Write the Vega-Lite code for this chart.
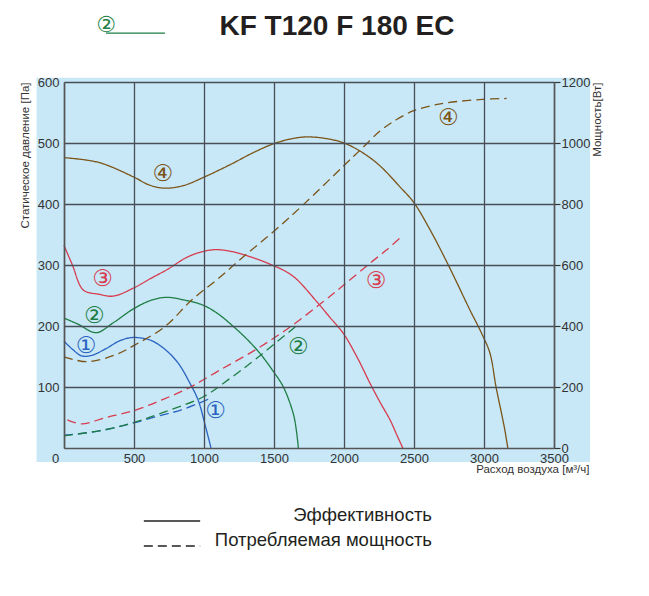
{
  "$schema": "https://vega.github.io/schema/vega-lite/v6.json",
  "width": 490,
  "height": 366,
  "autosize": {"type": "none"},
  "padding": {"left": 64, "top": 82, "right": 95, "bottom": 148},
  "background": "white",
  "config": {"font": "Liberation Sans", "view": {"stroke": null}},
  "title": {
    "text": "KF T120 F 180 EC",
    "font": "Liberation Sans",
    "fontSize": 28,
    "fontWeight": "bold",
    "color": "#231f20",
    "anchor": "middle",
    "frame": "group",
    "dx": 28,
    "offset": -27
  },
  "datasets": {
    "pressure": [
      {"q": 0, "v": 175, "series": "1"}, {"q": 60, "v": 162, "series": "1"}, {"q": 126, "v": 151, "series": "1"},
      {"q": 200, "v": 152, "series": "1"}, {"q": 293, "v": 162, "series": "1"}, {"q": 400, "v": 176, "series": "1"},
      {"q": 483, "v": 181, "series": "1"}, {"q": 560, "v": 180, "series": "1"}, {"q": 626, "v": 176, "series": "1"},
      {"q": 720, "v": 162, "series": "1"}, {"q": 816, "v": 139, "series": "1"}, {"q": 900, "v": 106, "series": "1"},
      {"q": 959, "v": 78, "series": "1"}, {"q": 1010, "v": 36, "series": "1"}, {"q": 1050, "v": 0, "series": "1"},
      {"q": 0, "v": 213, "series": "2"}, {"q": 100, "v": 203, "series": "2"}, {"q": 230, "v": 189, "series": "2"},
      {"q": 350, "v": 205, "series": "2"}, {"q": 495, "v": 228, "series": "2"}, {"q": 620, "v": 242, "series": "2"},
      {"q": 733, "v": 247, "series": "2"}, {"q": 850, "v": 243, "series": "2"}, {"q": 995, "v": 234, "series": "2"},
      {"q": 1100, "v": 220, "series": "2"}, {"q": 1186, "v": 204, "series": "2"}, {"q": 1300, "v": 180, "series": "2"},
      {"q": 1400, "v": 155, "series": "2"}, {"q": 1500, "v": 124, "series": "2"}, {"q": 1567, "v": 100, "series": "2"},
      {"q": 1638, "v": 56, "series": "2"}, {"q": 1662, "v": 25, "series": "2"}, {"q": 1674, "v": 0, "series": "2"},
      {"q": 0, "v": 332, "series": "3"}, {"q": 60, "v": 300, "series": "3"}, {"q": 138, "v": 259, "series": "3"},
      {"q": 250, "v": 252, "series": "3"}, {"q": 352, "v": 249, "series": "3"}, {"q": 495, "v": 262, "series": "3"},
      {"q": 620, "v": 278, "series": "3"}, {"q": 733, "v": 292, "series": "3"}, {"q": 900, "v": 315, "series": "3"},
      {"q": 1066, "v": 325, "series": "3"}, {"q": 1200, "v": 322, "series": "3"}, {"q": 1281, "v": 317, "series": "3"},
      {"q": 1400, "v": 308, "series": "3"}, {"q": 1495, "v": 299, "series": "3"}, {"q": 1580, "v": 290, "series": "3"},
      {"q": 1660, "v": 277, "series": "3"}, {"q": 1805, "v": 240, "series": "3"}, {"q": 1900, "v": 214, "series": "3"},
      {"q": 1995, "v": 188, "series": "3"}, {"q": 2100, "v": 146, "series": "3"}, {"q": 2186, "v": 106, "series": "3"},
      {"q": 2260, "v": 74, "series": "3"}, {"q": 2329, "v": 46, "series": "3"}, {"q": 2380, "v": 20, "series": "3"},
      {"q": 2420, "v": 0, "series": "3"},
      {"q": 0, "v": 476, "series": "4"}, {"q": 250, "v": 468, "series": "4"}, {"q": 500, "v": 444, "series": "4"},
      {"q": 600, "v": 432, "series": "4"}, {"q": 710, "v": 426, "series": "4"}, {"q": 850, "v": 430, "series": "4"},
      {"q": 1000, "v": 444, "series": "4"}, {"q": 1200, "v": 466, "series": "4"}, {"q": 1350, "v": 484, "series": "4"},
      {"q": 1500, "v": 499, "series": "4"}, {"q": 1650, "v": 508, "series": "4"}, {"q": 1750, "v": 510, "series": "4"},
      {"q": 1880, "v": 507, "series": "4"}, {"q": 2000, "v": 500, "series": "4"}, {"q": 2120, "v": 486, "series": "4"},
      {"q": 2250, "v": 464, "series": "4"}, {"q": 2400, "v": 428, "series": "4"}, {"q": 2500, "v": 402, "series": "4"},
      {"q": 2614, "v": 358, "series": "4"}, {"q": 2745, "v": 300, "series": "4"}, {"q": 2900, "v": 226, "series": "4"},
      {"q": 2983, "v": 188, "series": "4"}, {"q": 3043, "v": 155, "series": "4"}, {"q": 3086, "v": 100, "series": "4"},
      {"q": 3125, "v": 57, "series": "4"}, {"q": 3150, "v": 28, "series": "4"}, {"q": 3170, "v": 0, "series": "4"}
    ],
    "power": [
      {"q": 0, "w": 42, "series": "1"}, {"q": 257, "w": 56, "series": "1"}, {"q": 495, "w": 82, "series": "1"},
      {"q": 700, "w": 108, "series": "1"}, {"q": 840, "w": 125, "series": "1"}, {"q": 1031, "w": 160, "series": "1"},
      {"q": 0, "w": 40, "series": "2"}, {"q": 257, "w": 57, "series": "2"}, {"q": 495, "w": 83, "series": "2"},
      {"q": 700, "w": 115, "series": "2"}, {"q": 995, "w": 168, "series": "2"}, {"q": 1186, "w": 228, "series": "2"},
      {"q": 1370, "w": 292, "series": "2"}, {"q": 1662, "w": 401, "series": "2"},
      {"q": 24, "w": 92, "series": "3"}, {"q": 126, "w": 79, "series": "3"}, {"q": 300, "w": 100, "series": "3"},
      {"q": 495, "w": 122, "series": "3"}, {"q": 700, "w": 158, "series": "3"}, {"q": 888, "w": 196, "series": "3"},
      {"q": 1100, "w": 252, "series": "3"}, {"q": 1364, "w": 321, "series": "3"}, {"q": 1600, "w": 392, "series": "3"},
      {"q": 1852, "w": 480, "series": "3"}, {"q": 2000, "w": 535, "series": "3"}, {"q": 2186, "w": 606, "series": "3"},
      {"q": 2300, "w": 648, "series": "3"}, {"q": 2416, "w": 695, "series": "3"},
      {"q": 0, "w": 299, "series": "4"}, {"q": 162, "w": 283, "series": "4"}, {"q": 364, "w": 305, "series": "4"},
      {"q": 507, "w": 338, "series": "4"}, {"q": 721, "w": 398, "series": "4"}, {"q": 912, "w": 485, "series": "4"},
      {"q": 1100, "w": 555, "series": "4"}, {"q": 1281, "w": 627, "series": "4"}, {"q": 1495, "w": 709, "series": "4"},
      {"q": 1710, "w": 798, "series": "4"}, {"q": 1995, "w": 924, "series": "4"}, {"q": 2114, "w": 976, "series": "4"},
      {"q": 2257, "w": 1039, "series": "4"}, {"q": 2376, "w": 1077, "series": "4"}, {"q": 2493, "w": 1105, "series": "4"},
      {"q": 2620, "w": 1122, "series": "4"}, {"q": 2733, "w": 1132, "series": "4"}, {"q": 2990, "w": 1143, "series": "4"},
      {"q": 3162, "w": 1146, "series": "4"}
    ],
    "labels": [
      {"q": 157, "v": 167, "series": "1", "label": "①"},
      {"q": 216, "v": 216, "series": "2", "label": "②"},
      {"q": 276, "v": 277, "series": "3", "label": "③"},
      {"q": 705, "v": 449, "series": "4", "label": "④"},
      {"q": 1083, "v": 60, "series": "1", "label": "①"},
      {"q": 1674, "v": 166, "series": "2", "label": "②"},
      {"q": 2229, "v": 273, "series": "3", "label": "③"},
      {"q": 2745, "v": 541, "series": "4", "label": "④"}
    ],
    "header": [
      {"q": 300, "q2": 721, "v": 693, "vr": 680, "label": "②"}
    ]
  },
  "layer": [
    {
      "layer": [
        {
          "data": {"name": "header"},
          "mark": {"type": "rect", "color": "#c8e8f7"},
          "encoding": {
            "x": {"datum": -196, "type": "quantitative", "scale": {"domain": [0, 3500], "nice": false}},
            "x2": {"datum": 3757},
            "y": {"datum": 607, "type": "quantitative", "scale": {"domain": [0, 600], "nice": false}},
            "y2": {"datum": -23}
          }
        },
        {
          "data": {"name": "header"},
          "mark": {"type": "text", "font": "DejaVu Sans", "fontSize": 22, "color": "#1e7e44", "baseline": "middle"},
          "encoding": {
            "x": {"field": "q", "type": "quantitative", "scale": {"domain": [0, 3500], "nice": false}},
            "y": {"field": "v", "type": "quantitative", "scale": {"domain": [0, 600], "nice": false}},
            "text": {"field": "label"}
          }
        },
        {
          "data": {"name": "header"},
          "mark": {"type": "rule", "color": "#1e7e44", "strokeWidth": 1.3},
          "encoding": {
            "x": {"field": "q", "type": "quantitative", "scale": {"domain": [0, 3500], "nice": false}},
            "x2": {"field": "q2"},
            "y": {"field": "vr", "type": "quantitative", "scale": {"domain": [0, 600], "nice": false}}
          }
        },
        {
          "data": {"name": "pressure"},
          "mark": {"type": "line", "interpolate": "catmull-rom", "strokeWidth": 1.3},
          "encoding": {
            "x": {
              "field": "q",
              "type": "quantitative",
              "scale": {"domain": [0, 3500], "nice": false},
              "axis": {
                "title": "Расход воздуха [м³/ч]",
                "values": [0, 500, 1000, 1500, 2000, 2500, 3000, 3500],
                "format": "d",
                "grid": true,
                "gridColor": "#474e55",
                "gridWidth": 1.3,
                "gridOpacity": 1,
                "domainColor": "#555555",
                "domainWidth": 1.5,
                "ticks": false,
                "labelPadding": 4,
                "labelFontSize": 13,
                "labelColor": "#333333",
                "labelFlush": false,
                "labelOffset": {"condition": {"test": "datum.value === 0", "value": -9}, "value": 0},
                "titleFontSize": 11.5,
                "titleFontWeight": "normal",
                "titleColor": "#333333",
                "titleAnchor": "end",
                "titleAlign": "right",
                "titleBaseline": "alphabetic",
                "titleX": 525,
                "titleY": 24,
                "zindex": 1
              }
            },
            "y": {
              "field": "v",
              "type": "quantitative",
              "scale": {"domain": [0, 600], "nice": false},
              "axis": {
                "title": "Статическое давление [Па]",
                "values": [100, 200, 300, 400, 500, 600],
                "format": "d",
                "grid": true,
                "gridColor": "#474e55",
                "gridWidth": 1.3,
                "gridOpacity": 1,
                "domainColor": "#555555",
                "domainWidth": 1.5,
                "ticks": false,
                "labelPadding": 5,
                "labelFontSize": 13,
                "labelColor": "#333333",
                "titleFontSize": 11.5,
                "titleFontWeight": "normal",
                "titleColor": "#333333",
                "titleAnchor": "end",
                "titlePadding": 7,
                "zindex": 1
              }
            },
            "color": {
              "field": "series",
              "type": "nominal",
              "scale": {"domain": ["1", "2", "3", "4"], "range": ["#2a63c1", "#1e7e44", "#d73c4e", "#7b5418"]},
              "legend": null
            },
            "strokeDash": {
              "datum": "Эффективность",
              "type": "nominal",
              "scale": {"domain": ["Эффективность", "Потребляемая мощность"], "range": [[1, 0], [9, 5]]},
              "legend": {
                "title": null,
                "orient": "none",
                "legendX": 95,
                "legendY": 426,
                "direction": "vertical",
                "symbolType": "M-2.3,0H2.3",
                "symbolSize": 600,
                "symbolStrokeColor": "#222222",
                "symbolStrokeWidth": 1.3,
                "labelFontSize": 18.5,
                "labelColor": "#231f20",
                "labelLimit": 400,
                "labelAlign": "right",
                "labelBaseline": "alphabetic",
                "labelOffset": 247,
                "rowPadding": 6
              }
            }
          }
        },
        {
          "data": {"name": "labels"},
          "mark": {"type": "text", "font": "DejaVu Sans", "fontSize": 23, "baseline": "middle", "align": "center"},
          "encoding": {
            "x": {"field": "q", "type": "quantitative", "scale": {"domain": [0, 3500], "nice": false}},
            "y": {"field": "v", "type": "quantitative", "scale": {"domain": [0, 600], "nice": false}},
            "text": {"field": "label"},
            "color": {"field": "series", "type": "nominal", "legend": null}
          }
        }
      ]
    },
    {
      "data": {"name": "power"},
      "mark": {"type": "line", "interpolate": "catmull-rom", "strokeWidth": 1.3},
      "encoding": {
        "x": {"field": "q", "type": "quantitative", "scale": {"domain": [0, 3500], "nice": false}},
        "y": {
          "field": "w",
          "type": "quantitative",
          "scale": {"domain": [0, 1200], "nice": false},
          "axis": {
            "orient": "right",
            "title": "Мощность[Вт]",
            "values": [0, 200, 400, 600, 800, 1000, 1200],
            "format": "d",
            "grid": false,
            "ticks": true,
            "tickSize": 6,
            "tickColor": "#333333",
            "tickWidth": 1.2,
            "domainColor": "#555555",
            "domainWidth": 1.5,
            "labelPadding": 1,
            "labelFontSize": 13,
            "labelColor": "#333333",
            "titleFontSize": 11.5,
            "titleFontWeight": "normal",
            "titleColor": "#333333",
            "titleAngle": 270,
            "titleAnchor": "end",
            "titleBaseline": "top",
            "titleX": 37,
            "zindex": 1
          }
        },
        "color": {"field": "series", "type": "nominal", "legend": null},
        "strokeDash": {
          "datum": "Потребляемая мощность",
          "type": "nominal",
          "legend": {
            "title": null,
            "orient": "none",
            "legendX": 95,
            "legendY": 426,
            "direction": "vertical",
            "symbolType": "M-2.3,0H2.3",
            "symbolSize": 600,
            "symbolStrokeColor": "#222222",
            "symbolStrokeWidth": 1.3,
            "labelFontSize": 18.5,
            "labelColor": "#231f20",
            "labelLimit": 400,
            "labelAlign": "right",
            "labelBaseline": "alphabetic",
            "labelOffset": 247,
            "rowPadding": 6
          }
        }
      }
    }
  ],
  "resolve": {"scale": {"y": "independent"}, "axis": {"y": "independent"}}
}
